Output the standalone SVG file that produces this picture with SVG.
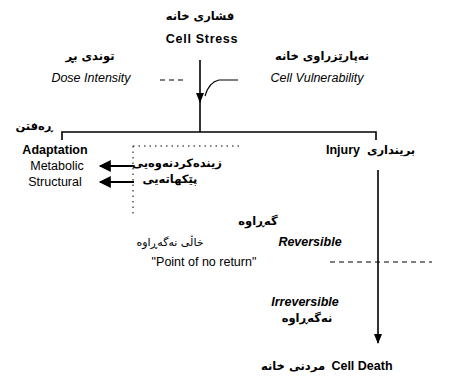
<svg xmlns="http://www.w3.org/2000/svg" width="451" height="381" viewBox="0 0 451 381">
  <defs>
    <marker id="head" viewBox="0 0 10 10" refX="9" refY="5" markerWidth="10" markerHeight="11" markerUnits="userSpaceOnUse" orient="auto">
      <path d="M0,1 L10,5 L0,9 z" fill="#000"/>
    </marker>
    <marker id="bighead" viewBox="0 0 10 10" refX="9" refY="5" markerWidth="16" markerHeight="12" markerUnits="userSpaceOnUse" orient="auto">
      <path d="M0,0 L10,5 L0,10 z" fill="#000"/>
    </marker>
    <style>
      .en { font-family: "Liberation Sans", Arial, sans-serif; font-size: 12.5px; fill: #000; }
      .b { font-weight: bold; }
      .i { font-style: italic; }
      .ku { font-family: "DejaVu Sans", "Noto Sans", sans-serif; font-size: 11.5px; font-weight: bold; fill: #000; }
      .kr { font-family: "DejaVu Sans", "Noto Sans", sans-serif; font-size: 11px; fill: #000; }
      .line { stroke: #000; stroke-width: 1.6; fill: none; }
      .thin { stroke: #000; stroke-width: 1.2; fill: none; }
      .thick { stroke: #000; stroke-width: 2; fill: none; }
      .dash { stroke: #000; stroke-width: 1.2; fill: none; stroke-dasharray: 5 4; }
      .dot { stroke: #000; stroke-width: 1; fill: none; stroke-dasharray: 1.5 4; }
    </style>
  </defs>
  <rect width="451" height="381" fill="#fff"/>

  <g id="connectors">
    <!-- stress down to the branch bar, head mid-way -->
    <path class="line" d="M200,60 V102" marker-end="url(#head)"/>
    <path class="line" d="M200,100 V132"/>
    <!-- modifiers feeding into the stress arrow -->
    <path class="dash" d="M160,80 H186"/>
    <path class="thin" d="M238,80 H219 Q209,82 205,96"/>
    <!-- branch bar -->
    <path class="line" d="M62,140 V132 H376 V140"/>
    <!-- adaptation sub-types -->
    <path class="thick" d="M134,166 H100" marker-end="url(#bighead)"/>
    <path class="thick" d="M134,182 H100" marker-end="url(#bighead)"/>
    <path class="dot" d="M133,146 H240"/>
    <path class="dot" d="M133,146 V215"/>
    <!-- injury progression to death -->
    <path class="line" d="M378,170 V343" marker-end="url(#head)"/>
    <!-- point of no return -->
    <path class="dash" d="M330,262 H432"/>
  </g>

  <g id="cell-stress">
    <text class="ku" x="200" y="20" text-anchor="middle" direction="rtl">فشاری خانە</text>
    <text class="en b" x="202" y="43" text-anchor="middle" letter-spacing="0.7">Cell Stress</text>
  </g>

  <g id="dose-intensity">
    <text class="ku" x="90" y="60" text-anchor="middle" direction="rtl">توندی بڕ</text>
    <text class="en i" x="91" y="82" text-anchor="middle">Dose Intensity</text>
  </g>

  <g id="cell-vulnerability">
    <text class="ku" x="322" y="60" text-anchor="middle" direction="rtl">نەپارێزراوی خانە</text>
    <text class="en i" x="317" y="82" text-anchor="middle">Cell Vulnerability</text>
  </g>

  <g id="adaptation">
    <text class="ku" x="34" y="130" text-anchor="middle" direction="rtl">ڕەفتن</text>
    <text class="en b" x="55" y="154" text-anchor="middle">Adaptation</text>
    <text class="en" x="57" y="170" text-anchor="middle">Metabolic</text>
    <text class="en" x="55" y="186" text-anchor="middle">Structural</text>
    <text class="ku" x="177" y="167" text-anchor="middle" direction="rtl">زیندەکردنەوەیی</text>
    <text class="ku" x="170" y="183" text-anchor="middle" direction="rtl">پێکهاتەیی</text>
  </g>

  <g id="injury">
    <text class="en b" x="343" y="154" text-anchor="middle">Injury</text>
    <text class="ku" x="391" y="154" text-anchor="middle" direction="rtl">برینداری</text>
  </g>

  <g id="reversible">
    <text class="ku" x="258" y="225" text-anchor="middle" direction="rtl">گەڕاوە</text>
    <text class="en b i" x="310" y="246" text-anchor="middle">Reversible</text>
  </g>

  <g id="point-of-no-return">
    <text class="kr" x="170" y="246" text-anchor="middle" direction="rtl">خاڵی نەگەڕاوە</text>
    <text class="en" x="204" y="266" text-anchor="middle">"Point of no return"</text>
  </g>

  <g id="irreversible">
    <text class="en b i" x="305" y="306" text-anchor="middle">Irreversible</text>
    <text class="ku" x="307" y="322" text-anchor="middle" direction="rtl">نەگەڕاوە</text>
  </g>

  <g id="cell-death">
    <text class="ku" x="293" y="370" text-anchor="middle" direction="rtl">مردنی خانە</text>
    <text class="en b" x="362" y="370" text-anchor="middle">Cell Death</text>
  </g>
</svg>
